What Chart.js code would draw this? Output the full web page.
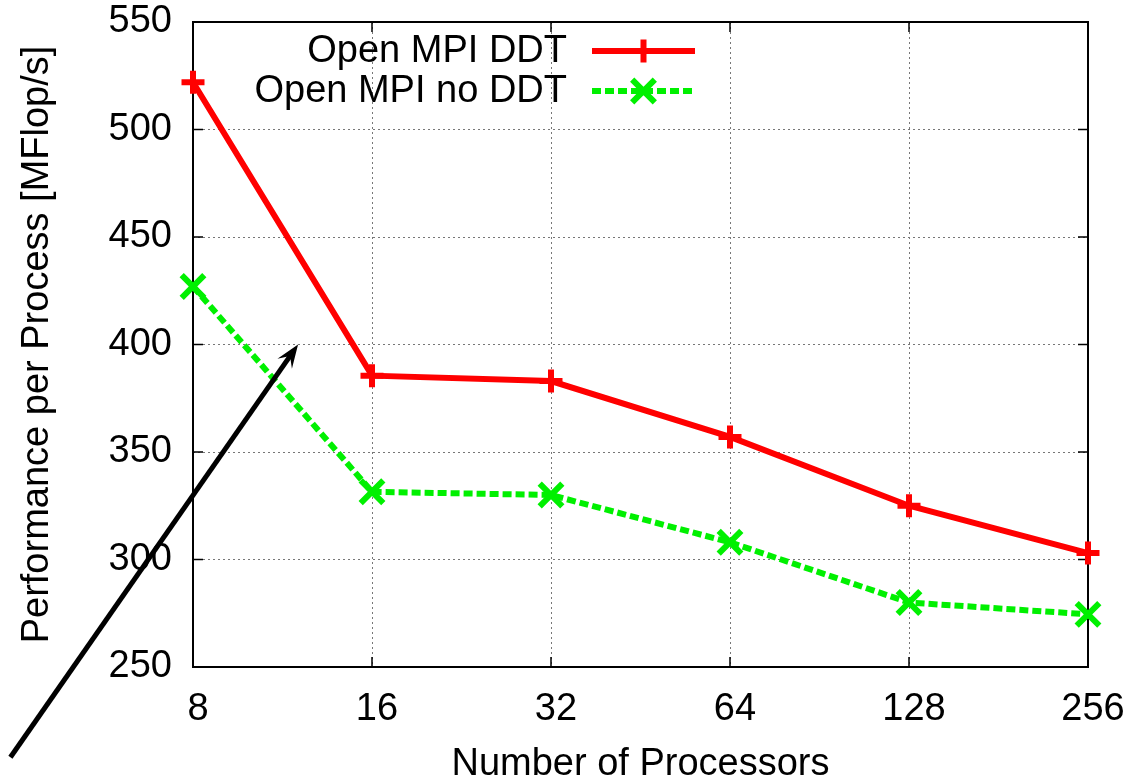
<!DOCTYPE html>
<html>
<head>
<meta charset="utf-8">
<script src="https://cdn.jsdelivr.net/npm/chart.js@4/dist/chart.umd.min.js"></script>
<style>
  html, body { margin: 0; padding: 0; background: #ffffff; }
  #wrap { width: 1130px; height: 784px; }
</style>
</head>
<body>
<div id="wrap"><canvas id="c" width="1130" height="784"></canvas></div>
<script>
// ---- data ----
const processors = ['8', '16', '32', '64', '128', '256'];
const ddtValues = [522, 385.5, 383, 357, 325, 303];
const noDdtValues = [427, 331.5, 330, 308, 280, 274.5];
const seriesNames = ['Open MPI DDT', 'Open MPI no DDT'];
const yTicks = [250, 300, 350, 400, 450, 500, 550];
const xTitle = 'Number of Processors';
const yTitle = 'Performance per Process [MFlop/s]';
// annotation arrow in data coordinates (x = category index, y = value)
const arrowFrom = { x: -1.02, y: 208 };
const arrowTo = { x: 0.587, y: 400 };

const FONT = "'Liberation Sans', Arial, Helvetica, sans-serif";
const RED = '#ff0000';
const GREEN = '#00f000';

const framePlugin = {
  id: 'frame',
  beforeDatasetsDraw(chart) {
    const { ctx, chartArea: a, scales } = chart;
    ctx.save();
    ctx.strokeStyle = '#000';
    ctx.lineWidth = 2;
    ctx.strokeRect(a.left, a.top, a.right - a.left, a.bottom - a.top);
    ctx.lineWidth = 1.5;
    const tl = 10;
    ctx.beginPath();
    scales.y.ticks.forEach(t => {
      const y = scales.y.getPixelForValue(t.value);
      ctx.moveTo(a.left, y); ctx.lineTo(a.left + tl, y);
      ctx.moveTo(a.right, y); ctx.lineTo(a.right - tl, y);
    });
    processors.forEach((p, i) => {
      const x = scales.x.getPixelForValue(i);
      ctx.moveTo(x, a.bottom); ctx.lineTo(x, a.bottom - tl);
      ctx.moveTo(x, a.top); ctx.lineTo(x, a.top + tl);
    });
    ctx.stroke();
    ctx.restore();
  },
  afterDraw(chart) {
    const { ctx, scales } = chart;
    // arrow
    const x1 = scales.x.getPixelForValue(arrowFrom.x), y1 = scales.y.getPixelForValue(arrowFrom.y);
    const x2 = scales.x.getPixelForValue(arrowTo.x), y2 = scales.y.getPixelForValue(arrowTo.y);
    const ang = Math.atan2(y2 - y1, x2 - x1);
    ctx.save();
    ctx.strokeStyle = '#000';
    ctx.fillStyle = '#000';
    ctx.lineWidth = 5;
    ctx.lineCap = 'butt';
    ctx.beginPath();
    ctx.moveTo(x1, y1);
    ctx.lineTo(x2 - 12 * Math.cos(ang), y2 - 12 * Math.sin(ang));
    ctx.stroke();
    const hl = 25, hw = 0.36;
    ctx.beginPath();
    ctx.moveTo(x2, y2);
    ctx.lineTo(x2 - hl * Math.cos(ang - hw), y2 - hl * Math.sin(ang - hw));
    ctx.lineTo(x2 - 14 * Math.cos(ang), y2 - 14 * Math.sin(ang));
    ctx.lineTo(x2 - hl * Math.cos(ang + hw), y2 - hl * Math.sin(ang + hw));
    ctx.closePath();
    ctx.fill();

    // legend (gnuplot style)
    ctx.font = '38px ' + FONT;
    ctx.textAlign = 'right';
    ctx.textBaseline = 'middle';
    const textRight = 567, lx1 = 592, lx2 = 695, rows = [51, 91];
    chart.data.datasets.forEach((ds, i) => {
      const y = rows[i];
      ctx.fillStyle = '#000';
      ctx.fillText(ds.label, textRight, y + 1);
      ctx.strokeStyle = ds.borderColor;
      ctx.lineWidth = ds.borderWidth;
      ctx.setLineDash(ds.borderDash || []);
      ctx.beginPath();
      ctx.moveTo(lx1, y); ctx.lineTo(lx2, y);
      ctx.stroke();
      ctx.setLineDash([]);
      ctx.lineWidth = ds.pointBorderWidth;
      Chart.helpers.drawPoint(ctx, { pointStyle: ds.pointStyle, rotation: 0, radius: ds.pointRadius, borderWidth: ds.pointBorderWidth }, (lx1 + lx2) / 2, y);
    });
    ctx.restore();
  }
};

new Chart(document.getElementById('c'), {
  type: 'line',
  data: {
    labels: processors,
    datasets: [
      {
        label: seriesNames[0],
        data: ddtValues,
        borderColor: RED,
        backgroundColor: RED,
        borderWidth: 6,
        pointStyle: 'cross',
        pointRadius: 11.5,
        pointBorderWidth: 6,
        pointBorderColor: RED,
        pointHoverRadius: 11.5,
        fill: false,
        tension: 0
      },
      {
        label: seriesNames[1],
        data: noDdtValues,
        borderColor: GREEN,
        backgroundColor: GREEN,
        borderWidth: 6,
        borderDash: [9, 4],
        pointStyle: 'crossRot',
        pointRadius: 16,
        pointBorderWidth: 6,
        pointBorderColor: GREEN,
        pointHoverRadius: 16,
        fill: false,
        tension: 0
      }
    ]
  },
  options: {
    responsive: false,
    animation: false,
    devicePixelRatio: 1,
    layout: { padding: { top: 20, right: 42, left: 0, bottom: 0 } },
    plugins: { legend: { display: false }, tooltip: { enabled: false } },
    events: [],
    scales: {
      x: {
        type: 'category',
        offset: false,
        afterFit(s) { s.height = 117; s.paddingLeft = 0; s.paddingRight = 0; s.paddingTop = 0; s.paddingBottom = 0; },
        grid: { color: '#777', lineWidth: 1, drawTicks: false },
        border: { display: false, dash: [2, 3] },
        ticks: { color: '#000', font: { family: FONT, size: 38, lineHeight: 1 }, padding: 24, labelOffset: 5, maxRotation: 0, autoSkip: false },
        title: { display: true, text: xTitle, color: '#000', font: { family: FONT, size: 38, lineHeight: 1 }, padding: { top: 0, bottom: 0 } }
      },
      y: {
        min: 250,
        max: 550,
        afterFit(s) { s.width = 193; s.paddingLeft = 0; s.paddingRight = 0; s.paddingTop = 0; s.paddingBottom = 0; },
        afterBuildTicks(s) { s.ticks = yTicks.map(v => ({ value: v })); },
        grid: { color: '#777', lineWidth: 1, drawTicks: false },
        border: { display: false, dash: [2, 3] },
        ticks: { color: '#000', font: { family: FONT, size: 38, lineHeight: 1 }, padding: 21 },
        title: { display: true, text: yTitle, color: '#000', font: { family: FONT, size: 38, lineHeight: 1 }, padding: { top: 19, bottom: 0 } }
      }
    }
  },
  plugins: [framePlugin]
});
</script>
</body>
</html>
